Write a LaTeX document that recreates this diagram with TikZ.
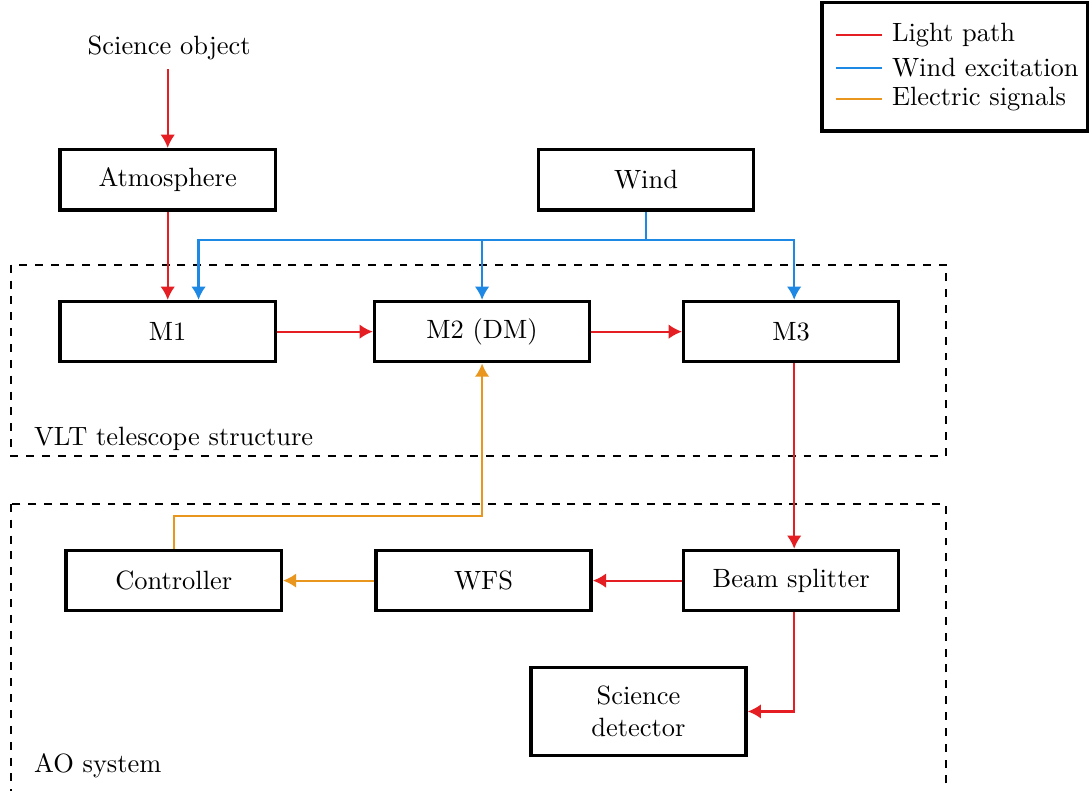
\documentclass[tikz,border=0pt]{standalone}
\usepackage{tikz}
\usepackage{xcolor}
\usetikzlibrary{arrows.meta,positioning,calc}

\definecolor{lightred}{HTML}{E41E22}
\definecolor{windblue}{HTML}{1E88E5}
\definecolor{elecorange}{HTML}{E8961E}

\begin{document}
\begin{tikzpicture}[
    >={Latex[length=5pt,width=5.5pt]},
    box/.style={draw, line width=1.3pt, rectangle, minimum width=2.86cm, minimum height=0.8cm, align=center},
    group/.style={draw, thick, dashed},
    light/.style={draw=lightred, thick},
    wind/.style={draw=windblue, thick},
    elec/.style={draw=elecorange, thick}
]
\useasboundingbox (0,0) rectangle (14.48,-10.51);

% Groups
\draw[group] (0.15,-3.52) rectangle (12.58,-6.06);
\node[anchor=base west] (vltlabel) at (0.33,-5.92) {VLT telescope structure};
\draw[group] (0.15,-6.70) rectangle (12.58,-11.2);
\node[anchor=base west] (aolabel) at (0.33,-10.27) {AO system};

% Sources
\node (obj) at (2.25,-0.64) {Science object};
\node[box] (atm) at (2.23,-2.39) {Atmosphere};
\node[box] (wind) at (8.59,-2.39) {Wind};

% Telescope
\node[box] (m1) at (2.23,-4.41) {M1};
\node[box] (m2) at (6.41,-4.41) {M2 (DM)};
\node[box] (m3) at (10.52,-4.41) {M3};

% AO system
\node[box] (ctrl) at (2.31,-7.72) {Controller};
\node[box] (wfs) at (6.43,-7.72) {WFS};
\node[box] (bs) at (10.52,-7.72) {Beam splitter};
\node[box, minimum height=1.17cm] (det) at (8.49,-9.46) {Science\\detector};

% Light path
\draw[light,->] ([xshift=-0.02cm]obj.south) -- ([xshift=-0.02cm]obj.south |- atm.north);
\draw[light,->] (atm) -- (m1);
\draw[light,->] (m1) -- (m2);
\draw[light,->] (m2) -- (m3);
\draw[light,->] ([xshift=0.04cm]m3.south) -- ([xshift=0.04cm]bs.north);
\draw[light,->] (bs) -- (wfs);
\draw[light,->] ([xshift=0.04cm]bs.south) |- (det.east);

% Wind excitation
\coordinate (wj) at (8.59,-3.19);
\draw[wind] (wind) -- (wj);
\draw[wind,->] (wj) -| ([xshift=0.41cm]m1.north);
\draw[wind,->] (wj) -| (m2.north);
\draw[wind,->] (wj) -| ([xshift=0.04cm]m3.north);

% Electric signals
\coordinate (cj) at (4,-6.86);
\draw[elec,->] (wfs) -- (ctrl);
\draw[elec,->] (ctrl.north) |- (cj) -| (m2.south);

% Legend
\draw[line width=1.3pt] (10.93,-0.03) rectangle (14.46,-1.74);
\draw[light] (11.11,-0.47) -- (11.73,-0.47) node[right, black] (lglight) {Light path};
\draw[wind] (11.11,-0.90) -- (11.73,-0.90) node[right, black] (lgwind) {Wind excitation};
\draw[elec] (11.11,-1.32) -- (11.73,-1.32) node[right, black] (lgelec) {Electric signals};

\end{tikzpicture}
\end{document}
